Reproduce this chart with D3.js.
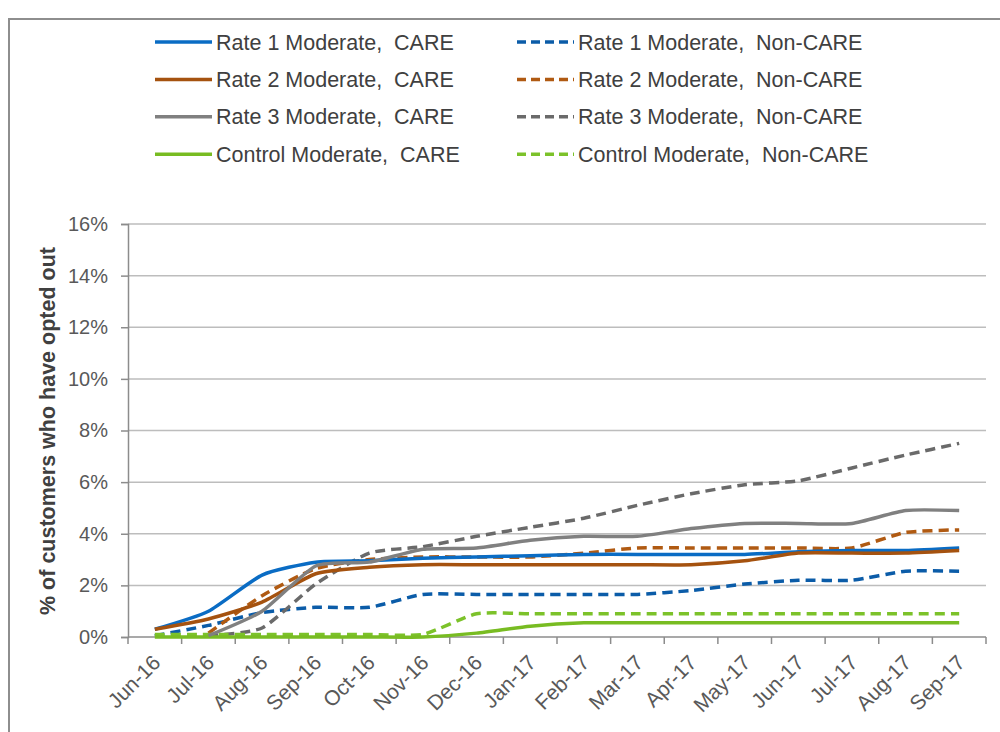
<!DOCTYPE html>
<html>
<head>
<meta charset="utf-8">
<script src="https://cdn.jsdelivr.net/npm/d3@7"></script>
<style>
  body { margin: 0; background: #fff; }
  text { font-family: "Liberation Sans", Arial, sans-serif; }
</style>
</head>
<body>
<script>
// months on the x axis
var months = ["Jun-16", "Jul-16", "Aug-16", "Sep-16", "Oct-16", "Nov-16", "Dec-16", "Jan-17",
              "Feb-17", "Mar-17", "Apr-17", "May-17", "Jun-17", "Jul-17", "Aug-17", "Sep-17"];

// % of customers who have opted out (null = no value)
var rate1Care    = [0.3, 1.0, 2.4, 2.9, 2.95, 3.05, 3.1, 3.15, 3.2, 3.2, 3.2, 3.2, 3.3, 3.35, 3.35, 3.45];
var rate1NonCare = [0.05, 0.45, 0.95, 1.15, 1.15, 1.65, 1.65, 1.65, 1.65, 1.65, 1.8, 2.05, 2.2, 2.2, 2.55, 2.55];
var rate2Care    = [0.3, 0.7, 1.35, 2.45, 2.7, 2.8, 2.8, 2.8, 2.8, 2.8, 2.8, 2.95, 3.25, 3.25, 3.25, 3.35];
var rate2NonCare = [null, 0.15, 1.6, 2.65, 3.0, 3.1, 3.1, 3.1, 3.25, 3.45, 3.45, 3.45, 3.45, 3.45, 4.05, 4.15];
var rate3Care    = [null, 0.05, 1.0, 2.75, 2.9, 3.4, 3.45, 3.75, 3.9, 3.9, 4.2, 4.4, 4.4, 4.4, 4.9, 4.9];
var rate3NonCare = [null, 0.05, 0.35, 2.05, 3.25, 3.5, 3.9, 4.25, 4.6, 5.1, 5.55, 5.9, 6.05, 6.55, 7.05, 7.5];
var controlCare    = [0, 0, 0, 0, 0, 0, 0.15, 0.42, 0.55, 0.55, 0.55, 0.55, 0.55, 0.55, 0.55, 0.55];
var controlNonCare = [0.1, 0.1, 0.1, 0.1, 0.1, 0.1, 0.9, 0.9, 0.9, 0.9, 0.9, 0.9, 0.9, 0.9, 0.9, 0.9];

var yTicks = [0, 2, 4, 6, 8, 10, 12, 14, 16];

// series table built from the arrays above
var series = [
    {name: "Rate 1 Moderate,  CARE",        values: rate1Care,      color: "#0a6cc4", dash: null, col: 0, row: 0},
    {name: "Rate 1 Moderate,  Non-CARE",    values: rate1NonCare,   color: "#0b5ca8", dash: "10,6", col: 1, row: 0},
    {name: "Rate 2 Moderate,  CARE",        values: rate2Care,      color: "#a5520f", dash: null, col: 0, row: 1},
    {name: "Rate 2 Moderate,  Non-CARE",    values: rate2NonCare,   color: "#b05a12", dash: "10,6", col: 1, row: 1},
    {name: "Rate 3 Moderate,  CARE",        values: rate3Care,      color: "#808080", dash: null, col: 0, row: 2},
    {name: "Rate 3 Moderate,  Non-CARE",    values: rate3NonCare,   color: "#6a6a6a", dash: "10,6", col: 1, row: 2},
    {name: "Control Moderate,  CARE",       values: controlCare,    color: "#78bc22", dash: null, col: 0, row: 3},
    {name: "Control Moderate,  Non-CARE",   values: controlNonCare, color: "#7cc22a", dash: "10,6", col: 1, row: 3}
];

var width = 1000, height = 732;
var svg = d3.select("body").append("svg")
    .attr("width", width)
    .attr("height", height);

// chart frame
svg.append("rect")
    .attr("x", 9).attr("y", 19)
    .attr("width", 1010).attr("height", 740)
    .attr("fill", "none")
    .attr("stroke", "#8e8e8e")
    .attr("stroke-width", 2);

var x = d3.scaleBand().domain(months).range([128, 986]).paddingInner(0).paddingOuter(0);
var y = d3.scaleLinear().domain([0, 16]).range([637, 224]);

// gridlines
svg.append("g").selectAll("line")
    .data(yTicks.filter(function(d){ return d > 0; }))
    .enter().append("line")
    .attr("x1", 128).attr("x2", 986)
    .attr("y1", function(d){ return y(d); })
    .attr("y2", function(d){ return y(d); })
    .attr("stroke", "#bdbdbd")
    .attr("stroke-width", 1.5);

// y axis
var yAxis = svg.append("g")
    .attr("transform", "translate(128,0)")
    .call(d3.axisLeft(y).tickValues(yTicks).tickSize(7).tickPadding(13)
        .tickFormat(function(d){ return d + "%"; }));
yAxis.select(".domain").attr("stroke", "#8c8c8c").attr("stroke-width", 1.5);
yAxis.selectAll(".tick line").attr("stroke", "#8c8c8c").attr("stroke-width", 1.5);
yAxis.selectAll(".tick text")
    .attr("font-size", 20)
    .attr("fill", "#595959")
    .style("font-family", "'Liberation Sans', Arial, sans-serif");

// x axis: ticks between categories
var xAxis = svg.append("g").attr("transform", "translate(0,637)");
xAxis.append("line")
    .attr("x1", 128).attr("x2", 986)
    .attr("stroke", "#8c8c8c").attr("stroke-width", 1.5);
xAxis.selectAll(".xtick")
    .data(months.concat(["end"]))
    .enter().append("line")
    .attr("class", "xtick")
    .attr("x1", function(d, i){ return i < months.length ? x(d) : x.range()[1]; })
    .attr("x2", function(d, i){ return i < months.length ? x(d) : x.range()[1]; })
    .attr("y1", 0).attr("y2", 7)
    .attr("stroke", "#8c8c8c").attr("stroke-width", 1.5);
xAxis.selectAll(".xlabel")
    .data(months)
    .enter().append("text")
    .attr("class", "xlabel")
    .attr("text-anchor", "end")
    .attr("font-size", 21)
    .attr("fill", "#595959")
    .attr("transform", function(d){
        var cx = x(d) + x.bandwidth() / 2 + 7;
        return "translate(" + cx + ",27) rotate(-45)";
    })
    .text(function(d){ return d; });

// y axis title
svg.append("text")
    .attr("transform", "translate(55,431) rotate(-90)")
    .attr("text-anchor", "middle")
    .attr("font-size", 21.5)
    .attr("font-weight", "bold")
    .attr("fill", "#404040")
    .text("% of customers who have opted out");

// lines, smoothed like the spreadsheet's
var line = d3.line()
    .defined(function(d){ return d !== null; })
    .x(function(d, i){ return x(months[i]) + x.bandwidth() / 2; })
    .y(function(d){ return y(d); })
    .curve(d3.curveCardinal.tension(0.4));

// draw dashed ones under, solid ones on top (roughly Excel order)
var drawOrder = [1, 3, 5, 7, 6, 0, 2, 4];
svg.append("g").selectAll("path")
    .data(drawOrder.map(function(i){ return series[i]; }))
    .enter().append("path")
    .attr("d", function(d){ return line(d.values); })
    .attr("fill", "none")
    .attr("stroke", function(d){ return d.color; })
    .attr("stroke-width", 3.5)
    .attr("stroke-dasharray", function(d){ return d.dash; })
    .attr("stroke-linejoin", "round");

// legend
var legend = svg.append("g");
var legItems = legend.selectAll("g")
    .data(series)
    .enter().append("g")
    .attr("transform", function(d){
        return "translate(" + (d.col === 0 ? 155 : 517) + "," + (42 + d.row * 37.4) + ")";
    });
legItems.append("line")
    .attr("x1", 0).attr("x2", 57)
    .attr("stroke", function(d){ return d.color; })
    .attr("stroke-width", 3.5)
    .attr("stroke-dasharray", function(d){ return d.dash ? "9,5" : null; });
legItems.append("text")
    .attr("x", 61)
    .attr("dy", "0.35em")
    .attr("font-size", 21.5)
    .attr("fill", "#404040")
    .style("white-space", "pre")
    .text(function(d){ return d.name; });
</script>
</body>
</html>
